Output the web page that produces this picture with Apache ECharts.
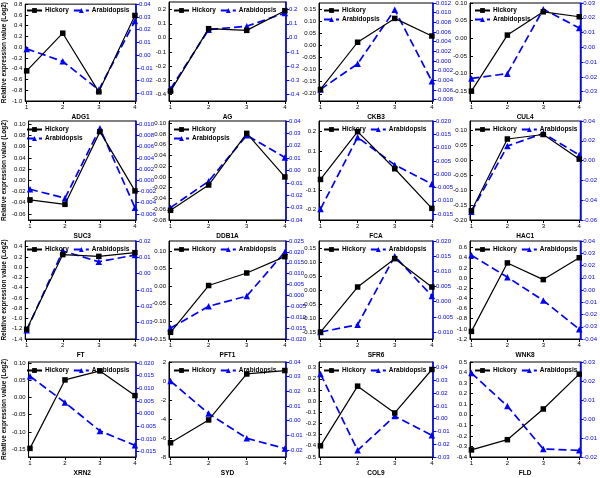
<!DOCTYPE html>
<html>
<head>
<meta charset="utf-8">
<script src="https://cdn.jsdelivr.net/npm/echarts@6/dist/echarts.min.js"></script>
<style>
  html, body { margin: 0; padding: 0; background: #fff; }
  #chart { width: 600px; height: 478px; }
</style>
</head>
<body>
<div id="chart"></div>
<script>
// developmental stages on the x axis
const stages = [1, 2, 3, 4]

const genes = ['ADG1', 'AG', 'CKB3', 'CUL4', 'SUC3', 'DDB1A', 'FCA', 'HAC1',
  'FT', 'PFT1', 'SFR6', 'WNK8', 'XRN2', 'SYD', 'COL9', 'FLD']

// Hickory, left axis (Log2)
const hickory = [
  [-0.44, 0.26, -0.83, 0.59],
  [-0.38, 0.065, 0.053, 0.193],
  [-0.182, 0.014, 0.113, 0.04],
  [-0.15, 0.009, 0.075, 0.061],
  [-0.035, -0.043, 0.087, -0.019],
  [-0.062, -0.015, 0.081, 0.0],
  [-0.046, 0.2, 0.009, -0.195],
  [-0.169, 0.07, 0.085, 0.003],
  [-1.21, 0.245, 0.21, 0.283],
  [-0.131, 0.002, 0.0376, 0.084],
  [-0.15, 0.012, 0.114, 0.012],
  [-1.05, 0.298, -0.03, 0.4],
  [-0.148, 0.051, 0.077, 0.0055],
  [-6.5, -4.1, 0.74, 1.1],
  [-0.4, 0.134, -0.106, 0.283],
  [-0.333, -0.236, 0.055, 0.385]
]

// Arabidopsis, right axis
const arabidopsis = [
  [0.0049, -0.0049, -0.0272, 0.0267],
  [-0.364, 0.058, 0.082, 0.176],
  [-0.0059, -0.0006, 0.0106, -0.0042],
  [-0.021, -0.0178, 0.0258, 0.0131],
  [-0.0016, -0.0032, 0.0093, -0.0049],
  [-0.03, -0.0087, 0.0285, 0.0105],
  [-0.0131, 0.0139, 0.0035, -0.0037],
  [-0.0516, 0.0147, 0.0275, 0.0057],
  [-0.0347, 0.0139, 0.0073, 0.0114],
  [-0.015, -0.005, -0.0003, 0.020],
  [-0.010, -0.0076, 0.015, 0.0019],
  [0.0284, 0.0105, -0.0086, -0.032],
  [0.0148, 0.0044, -0.0068, -0.0125],
  [0.027, 0.0048, -0.012, -0.019],
  [0.035, -0.0248, 0.002, -0.013],
  [0.0242, 0.0068, -0.0158, -0.0165]
]

// axis extents [min, max]
const leftRange = [
  [-1.0, 0.8], [-0.45, 0.255], [-0.23, 0.177], [-0.178, 0.10],
  [-0.071, 0.106], [-0.08, 0.104], [-0.255, 0.255], [-0.2, 0.13],
  [-1.4, 0.51], [-0.15, 0.1285], [-0.175, 0.1775], [-1.2, 0.73],
  [-0.173, 0.103], [-8, 2], [-0.5, 0.35], [-0.4, 0.5]
]
const rightRange = [
  [-0.036, 0.04], [-0.45, 0.255], [-0.0083, 0.012], [-0.0363, 0.03],
  [-0.0071, 0.0106], [-0.04, 0.04], [-0.0172, 0.020], [-0.06, 0.04],
  [-0.04, 0.02], [-0.02, 0.025], [-0.0123, 0.020], [-0.04, 0.04],
  [-0.0171, 0.0204], [-0.0248, 0.04], [-0.03, 0.0443], [-0.02, 0.03]
]

// tick labels
const leftTicks = [
  ['-1.0', '-0.8', '-0.6', '-0.4', '-0.2', '0.0', '0.2', '0.4', '0.6', '0.8'],
  ['-0.4', '-0.3', '-0.2', '-0.1', '0.0', '0.1', '0.2'],
  ['-0.20', '-0.15', '-0.10', '-0.05', '0.00', '0.05', '0.10', '0.15'],
  ['-0.15', '-0.10', '-0.05', '0.00', '0.05', '0.10'],
  ['-0.06', '-0.04', '-0.02', '0.00', '0.02', '0.04', '0.06', '0.08', '0.10'],
  ['-0.08', '-0.06', '-0.04', '-0.02', '0.00', '0.02', '0.04', '0.06', '0.08', '0.10'],
  ['-0.2', '-0.1', '0.0', '0.1', '0.2'],
  ['-0.20', '-0.15', '-0.10', '-0.05', '0.00', '0.05', '0.10'],
  ['-1.4', '-1.2', '-1.0', '-0.8', '-0.6', '-0.4', '-0.2', '0.0', '0.2', '0.4'],
  ['-0.15', '-0.10', '-0.05', '0.00', '0.05', '0.10'],
  ['-0.15', '-0.10', '-0.05', '0.00', '0.05', '0.10', '0.15'],
  ['-1.2', '-1.0', '-0.8', '-0.6', '-0.4', '-0.2', '0.0', '0.2', '0.4', '0.6'],
  ['-0.15', '-0.10', '-0.05', '0.00', '0.05', '0.10'],
  ['-8', '-6', '-4', '-2', '0', '2'],
  ['-0.5', '-0.4', '-0.3', '-0.2', '-0.1', '0.0', '0.1', '0.2', '0.3'],
  ['-0.4', '-0.3', '-0.2', '-0.1', '0.0', '0.1', '0.2', '0.3', '0.4', '0.5']
]
const rightTicks = [
  ['-0.03', '-0.02', '-0.01', '0.00', '0.01', '0.02', '0.03', '0.04'],
  ['-0.4', '-0.3', '-0.2', '-0.1', '0.0', '0.1', '0.2'],
  ['-0.008', '-0.006', '-0.004', '-0.002', '0.000', '0.002', '0.004', '0.006', '0.008', '0.010', '0.012'],
  ['-0.03', '-0.02', '-0.01', '0.00', '0.01', '0.02', '0.03'],
  ['-0.006', '-0.004', '-0.002', '0.000', '0.002', '0.004', '0.006', '0.008', '0.010'],
  ['-0.04', '-0.03', '-0.02', '-0.01', '0.00', '0.01', '0.02', '0.03', '0.04'],
  ['-0.015', '-0.010', '-0.005', '0.000', '0.005', '0.010', '0.015', '0.020'],
  ['-0.06', '-0.04', '-0.02', '0.00', '0.02', '0.04'],
  ['-0.04', '-0.03', '-0.02', '-0.01', '0.00', '0.01', '0.02'],
  ['-0.020', '-0.015', '-0.010', '-0.005', '0.000', '0.005', '0.010', '0.015', '0.020', '0.025'],
  ['-0.010', '-0.005', '0.000', '0.005', '0.010', '0.015', '0.020'],
  ['-0.04', '-0.03', '-0.02', '-0.01', '0.00', '0.01', '0.02', '0.03', '0.04'],
  ['-0.015', '-0.010', '-0.005', '0.000', '0.005', '0.010', '0.015', '0.020'],
  ['-0.02', '-0.01', '0.00', '0.01', '0.02', '0.03', '0.04'],
  ['-0.03', '-0.02', '-0.01', '0.00', '0.01', '0.02', '0.03', '0.04'],
  ['-0.02', '-0.01', '0.00', '0.01', '0.02', '0.03']
]

// panel layout (pixels)
const colLeft = [22, 169, 319, 470]
const colRight = [136, 286, 433, 584]
const rowTop = [2, 121, 241, 362]
const rowBottom = [101, 220, 339, 461]
const stackedLegend = [2, 3, 4, 5]

const FONT = '"Liberation Sans", Arial, sans-serif'
const BLUE = '#0000ff'

function pickLabel(labels) {
  return function (v) {
    for (let s of labels) {
      if (Math.abs(Number(s) - v) < 1e-9) return s
    }
    return ''
  }
}

const grid = [], xAxis = [], yAxis = [], series = [], legend = []

genes.forEach((gene, i) => {
  const c = i % 4
  const r = Math.floor(i / 4)
  grid.push({
    left: colLeft[c],
    top: rowTop[r],
    width: colRight[c] - colLeft[c],
    height: rowBottom[r] - rowTop[r],
    show: true,
    borderColor: '#000',
    borderWidth: 1,
    backgroundColor: 'transparent'
  })
  xAxis.push({
    gridIndex: i,
    type: 'value',
    min: 0.96,
    max: 4.03,
    name: gene,
    nameLocation: 'middle',
    nameGap: 13,
    nameTextStyle: { fontSize: 6.5, fontWeight: 'bold', fontFamily: FONT, color: '#000' },
    axisLine: { onZero: false, lineStyle: { color: '#000', width: 1 } },
    axisTick: { customValues: stages, length: 3, lineStyle: { color: '#000' } },
    axisLabel: { customValues: stages, fontSize: 6, fontFamily: FONT, color: '#000', margin: 3 },
    splitLine: { show: false }
  })
  const lt = leftTicks[i], rt = rightTicks[i]
  yAxis.push({
    gridIndex: i,
    type: 'value',
    position: 'left',
    min: leftRange[i][0],
    max: leftRange[i][1],
    name: c === 0 ? 'Relative expression value (Log2)' : '',
    nameLocation: 'middle',
    nameGap: 13,
    nameTextStyle: { fontSize: 6.5, fontWeight: 'bold', fontFamily: FONT, color: '#000' },
    axisLine: { show: true, onZero: false, lineStyle: { color: '#000', width: 1 } },
    axisTick: { show: true, inside: true, length: 3, customValues: lt.map(Number), lineStyle: { color: '#000' } },
    axisLabel: {
      customValues: lt.map(Number),
      formatter: pickLabel(lt),
      fontSize: 6, fontFamily: FONT, color: '#000', margin: 3
    },
    splitLine: { show: false }
  })
  yAxis.push({
    gridIndex: i,
    type: 'value',
    position: 'right',
    min: rightRange[i][0],
    max: rightRange[i][1],
    axisLine: { show: true, onZero: false, lineStyle: { color: BLUE, width: 1.5 } },
    axisTick: { show: true, length: 3, customValues: rt.map(Number), lineStyle: { color: BLUE } },
    axisLabel: {
      customValues: rt.map(Number),
      formatter: pickLabel(rt),
      fontSize: 6, fontFamily: FONT, color: BLUE, margin: 3
    },
    splitLine: { show: false }
  })
  series.push({
    name: 'Hickory',
    type: 'line',
    xAxisIndex: i,
    yAxisIndex: 2 * i,
    data: stages.map((x, k) => [x, hickory[i][k]]),
    symbol: 'rect',
    symbolSize: 5.5,
    lineStyle: { color: '#000', width: 1.2 },
    itemStyle: { color: '#000' },
    animation: false,
    z: 3
  })
  series.push({
    name: 'Arabidopsis',
    type: 'line',
    xAxisIndex: i,
    yAxisIndex: 2 * i + 1,
    data: stages.map((x, k) => [x, arabidopsis[i][k]]),
    symbol: 'triangle',
    symbolSize: 6.5,
    lineStyle: { color: BLUE, width: 1.7, type: [8, 4] },
    itemStyle: { color: BLUE },
    animation: false,
    z: 2
  })
  const stacked = stackedLegend.indexOf(i) >= 0
  legend.push({
    data: ['Hickory', 'Arabidopsis'],
    left: colLeft[c] + 4,
    top: rowTop[r] + 5,
    orient: stacked ? 'vertical' : 'horizontal',
    padding: 0,
    itemWidth: 15,
    itemHeight: 6,
    itemGap: stacked ? 2 : 4,
    textStyle: { fontSize: 6.5, fontWeight: 'bold', fontFamily: FONT, color: '#000', padding: [0, 0, 0, -2] }
  })
})

const chart = echarts.init(document.getElementById('chart'))
chart.setOption({
  backgroundColor: '#fff',
  animation: false,
  grid: grid,
  xAxis: xAxis,
  yAxis: yAxis,
  legend: legend,
  series: series
})
</script>
</body>
</html>
